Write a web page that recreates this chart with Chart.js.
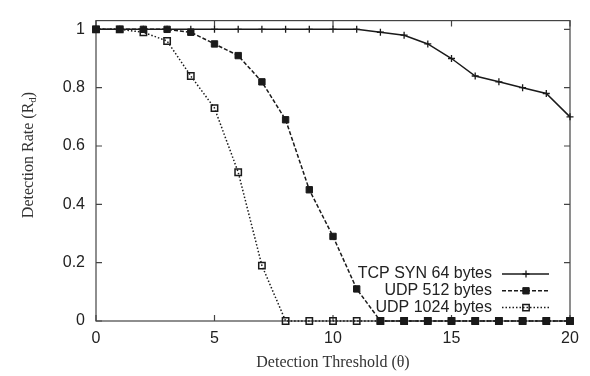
<!DOCTYPE html>
<html>
<head>
<meta charset="utf-8">
<script src="https://cdn.jsdelivr.net/npm/chart.js@4/dist/chart.umd.min.js"></script>
<style>
  body { margin: 0; background: #fff; }
  #wrap { width: 590px; height: 376px; }
</style>
</head>
<body>
<div id="wrap"><canvas id="chart" width="590" height="376"></canvas></div>
<script>
// valores
const thresholds = [0, 1, 2, 3, 4, 5, 6, 7, 8, 9, 10, 11, 12, 13, 14, 15, 16, 17, 18, 19, 20];
const tcpSyn64 = [1, 1, 1, 1, 1, 1, 1, 1, 1, 1, 1, 1, 0.99, 0.98, 0.95, 0.90, 0.84, 0.82, 0.80, 0.78, 0.70];
const udp512 = [1, 1, 1, 1, 0.99, 0.95, 0.91, 0.82, 0.69, 0.45, 0.29, 0.11, 0, 0, 0, 0, 0, 0, 0, 0, 0];
const udp1024 = [1, 1, 0.99, 0.96, 0.84, 0.73, 0.51, 0.19, 0, 0, 0, 0, 0, 0, 0, 0, 0, 0, 0, 0, 0];
const seriesLabels = ['TCP SYN 64 bytes', 'UDP 512 bytes', 'UDP 1024 bytes'];
const xTicks = [0, 5, 10, 15, 20];
const yTicks = [0, 0.2, 0.4, 0.6, 0.8, 1];

const INK = '#1a1a1a';
const toPoints = vals => vals.map((v, i) => ({ x: thresholds[i], y: v }));

// moldura e marcas internas (estilo gnuplot)
const framePlugin = {
  id: 'frame',
  beforeDatasetsDraw(chart) {
    const { ctx, chartArea: a, scales } = chart;
    ctx.save();
    ctx.strokeStyle = '#444';
    ctx.lineWidth = 1.2;
    ctx.strokeRect(a.left, a.top, a.right - a.left, a.bottom - a.top);
    ctx.beginPath();
    scales.x.ticks.forEach(t => {
      const px = scales.x.getPixelForValue(t.value);
      ctx.moveTo(px, a.bottom); ctx.lineTo(px, a.bottom - 6);
      ctx.moveTo(px, a.top); ctx.lineTo(px, a.top + 6);
    });
    scales.y.ticks.forEach(t => {
      const py = scales.y.getPixelForValue(t.value);
      ctx.moveTo(a.left, py); ctx.lineTo(a.left + 6, py);
      ctx.moveTo(a.right, py); ctx.lineTo(a.right - 6, py);
    });
    ctx.stroke();
    ctx.restore();
  },
  afterDraw(chart) {
    const { ctx, chartArea: a } = chart;
    ctx.save();
    ctx.fillStyle = '#333';

    // titulo eixo x
    ctx.font = '16px "Liberation Serif"';
    ctx.textAlign = 'center';
    ctx.textBaseline = 'middle';
    ctx.fillText('Detection Threshold (\u03B8)', (a.left + a.right) / 2, 363);

    // titulo eixo y com subscrito
    const main = 'Detection Rate (R', sub = 'd', tail = ')';
    ctx.font = '16px "Liberation Serif"';
    const wMain = ctx.measureText(main).width;
    const wTail = ctx.measureText(tail).width;
    ctx.font = '11px "Liberation Serif"';
    const wSub = ctx.measureText(sub).width;
    const total = wMain + wSub + wTail;
    ctx.translate(29, 155);
    ctx.rotate(-Math.PI / 2);
    ctx.textAlign = 'left';
    let x0 = -total / 2;
    ctx.font = '16px "Liberation Serif"';
    ctx.fillText(main, x0, 0);
    ctx.font = '11px "Liberation Serif"';
    ctx.fillText(sub, x0 + wMain, 4);
    ctx.font = '16px "Liberation Serif"';
    ctx.fillText(tail, x0 + wMain + wSub, 0);
    ctx.restore();

    // legenda no canto inferior direito
    ctx.save();
    ctx.font = '16px "Liberation Sans"';
    ctx.textAlign = 'right';
    ctx.textBaseline = 'middle';
    chart.data.datasets.forEach((ds, i) => {
      const y = 274 + i * 16.8;
      ctx.fillStyle = '#222';
      ctx.fillText(ds.label, 492, y);
      ctx.strokeStyle = ds.borderColor;
      ctx.lineWidth = ds.borderWidth;
      ctx.setLineDash(ds.borderDash || []);
      ctx.beginPath();
      ctx.moveTo(502, y); ctx.lineTo(549, y);
      ctx.stroke();
      ctx.setLineDash([]);
      ctx.fillStyle = ds.pointBackgroundColor;
      ctx.strokeStyle = ds.pointBorderColor;
      ctx.lineWidth = ds.pointBorderWidth;
      Chart.helpers.drawPoint(ctx, {
        pointStyle: ds.pointStyle, rotation: 0,
        radius: ds.pointRadius, borderWidth: ds.pointBorderWidth
      }, 526, y);
    });
    ctx.restore();
  }
};

new Chart(document.getElementById('chart'), {
  type: 'line',
  data: {
    datasets: [
      {
        label: seriesLabels[0],
        data: toPoints(tcpSyn64),
        borderColor: INK, borderWidth: 1.5, borderDash: [],
        pointStyle: 'cross', pointRadius: 3.5, pointBorderWidth: 1.3,
        pointBackgroundColor: INK, pointBorderColor: INK
      },
      {
        label: seriesLabels[1],
        data: toPoints(udp512),
        borderColor: INK, borderWidth: 1.5, borderDash: [4, 2],
        pointStyle: 'rect', pointRadius: 4.5, pointBorderWidth: 1,
        pointBackgroundColor: INK, pointBorderColor: INK
      },
      {
        label: seriesLabels[2],
        data: toPoints(udp1024),
        borderColor: INK, borderWidth: 1.5, borderDash: [1.5, 2],
        pointStyle: 'rect', pointRadius: 4.5, pointBorderWidth: 1.5,
        pointBackgroundColor: 'rgba(0,0,0,0)', pointBorderColor: INK
      }
    ]
  },
  options: {
    responsive: false,
    animation: false,
    layout: { padding: { top: 8, right: 20, left: 0, bottom: 0 } },
    datasets: { line: { tension: 0, clip: false, fill: false } },
    plugins: { legend: { display: false }, tooltip: { enabled: false } },
    scales: {
      x: {
        type: 'linear', min: 0, max: 20,
        grid: { display: false, drawTicks: false },
        border: { display: false },
        afterBuildTicks: s => { s.ticks = xTicks.map(v => ({ value: v })); },
        afterFit: s => { s.height = 55; },
        ticks: {
          padding: 8, color: '#222', maxRotation: 0,
          font: { family: 'Liberation Sans', size: 16 },
          callback: v => String(v)
        }
      },
      y: {
        type: 'linear', min: 0, max: 1.03,
        grid: { display: false, drawTicks: false },
        border: { display: false },
        afterBuildTicks: s => { s.ticks = yTicks.map(v => ({ value: v })); },
        afterFit: s => { s.width = 96; },
        ticks: {
          padding: 11, color: '#222',
          font: { family: 'Liberation Sans', size: 16 },
          callback: v => String(v)
        }
      }
    }
  },
  plugins: [framePlugin]
});
</script>
</body>
</html>
